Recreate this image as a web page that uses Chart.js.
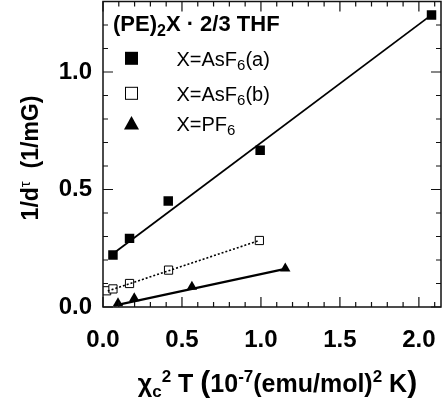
<!DOCTYPE html>
<html>
<head>
<meta charset="utf-8">
<script src="https://cdn.jsdelivr.net/npm/chart.js@4.4.0/dist/chart.umd.min.js"></script>
<style>
html, body { margin: 0; padding: 0; background: #fff; }
#wrap { width: 448px; height: 407px; }
</style>
</head>
<body>
<div id="wrap"><canvas id="chart"></canvas></div>
<script>
// X=AsF6(a), filled squares
const xA = [0.063, 0.168, 0.413, 0.995, 2.08];
const yA = [0.221, 0.292, 0.451, 0.667, 1.243];
// X=AsF6(b), open squares
const xB = [0.023, 0.063, 0.168, 0.415, 0.99];
const yB = [0.069, 0.077, 0.100, 0.157, 0.283];
// X=PF6, triangles
const xC = [0.095, 0.198, 0.563, 1.154];
const yC = [0.016, 0.037, 0.086, 0.164];
// linear fits, start and end
const fitA = [[0.063, 0.227], [2.08, 1.243]];
const fitB = [[0.03, 0.068], [0.99, 0.283]];
const fitC = [[0.07, 0.006], [1.154, 0.162]];

const xLabels = [0.0, 0.5, 1.0, 1.5, 2.0];
const yLabels = [0.0, 0.5, 1.0];

const pts = (xs, ys) => xs.map((x, i) => ({ x: x, y: ys[i] }));
const seg = (f) => f.map(p => ({ x: p[0], y: p[1] }));

function minorTicks(max) {
    const out = [];
    for (let i = 0; i * 0.1 <= max + 1e-9; i++) out.push({ value: Math.round(i) / 10 });
    return out;
}

const isMajor = v => Math.abs(v * 2 - Math.round(v * 2)) < 1e-6;

// draw a run of text pieces (sub/superscripts)
function drawRich(ctx, parts, x, y) {
    let cx = x;
    parts.forEach(p => {
        ctx.font = (p.bold ? 'bold ' : '') + p.size + 'px "Liberation Sans", Arial, sans-serif';
        ctx.fillText(p.t, cx, y + (p.dy || 0));
        cx += ctx.measureText(p.t).width;
    });
    return cx - x;
}

function richWidth(ctx, parts) {
    let w = 0;
    parts.forEach(p => {
        ctx.font = (p.bold ? 'bold ' : '') + p.size + 'px "Liberation Sans", Arial, sans-serif';
        w += ctx.measureText(p.t).width;
    });
    return w;
}

// pin the plot frame top to the reference position
const pinTop = {
    id: 'pinTop',
    afterLayout(chart) {
        const ys = chart.scales.y;
        chart.chartArea.top = 1.5;
        chart.chartArea.height = chart.chartArea.bottom - 1.5;
        ys.top = 1.5;
        ys.height = ys.bottom - ys.top;
        ys.configure();
    }
};

const framePlugin = {
    id: 'frame',
    afterDraw(chart) {
        const ctx = chart.ctx;
        const a = chart.chartArea;
        const xs = chart.scales.x, ys = chart.scales.y;
        ctx.save();
        ctx.strokeStyle = '#111';
        ctx.lineWidth = 1.5;
        ctx.strokeRect(a.left, a.top, a.right - a.left, a.bottom - a.top);
        ctx.lineWidth = 1.2;
        ctx.beginPath();
        xs.ticks.forEach(t => {
            const px = xs.getPixelForValue(t.value);
            const len = isMajor(t.value) ? 10 : 5;
            ctx.moveTo(px, a.bottom); ctx.lineTo(px, a.bottom - len);
            ctx.moveTo(px, a.top); ctx.lineTo(px, a.top + len);
        });
        ys.ticks.forEach(t => {
            const py = ys.getPixelForValue(t.value);
            const len = isMajor(t.value) ? 10 : 5;
            ctx.moveTo(a.left, py); ctx.lineTo(a.left + len, py);
            ctx.moveTo(a.right, py); ctx.lineTo(a.right - len, py);
        });
        ctx.stroke();

        // legend
        ctx.fillStyle = '#000';
        ctx.textBaseline = 'alphabetic';
        drawRich(ctx, [
            { t: '(PE)', size: 22, bold: true },
            { t: '2', size: 16, bold: true, dy: 5 },
            { t: 'X \u00b7 2/3 THF', size: 22, bold: true }
        ], 113, 31);

        const lx = 131.5;
        ctx.fillRect(lx - 6.5, 58.3 - 6.5, 13, 13);
        ctx.lineWidth = 1;
        ctx.strokeStyle = '#000';
        ctx.strokeRect(lx - 6, 93.3 - 6, 12, 12);
        ctx.beginPath();
        ctx.moveTo(lx, 116); ctx.lineTo(lx + 7.5, 129.5); ctx.lineTo(lx - 7.5, 129.5);
        ctx.closePath(); ctx.fill();

        drawRich(ctx, [
            { t: 'X=AsF', size: 20 }, { t: '6', size: 15, dy: 4 }, { t: '(a)', size: 20 }
        ], 176.5, 66);
        drawRich(ctx, [
            { t: 'X=AsF', size: 20 }, { t: '6', size: 15, dy: 4 }, { t: '(b)', size: 20 }
        ], 176.5, 101);
        drawRich(ctx, [
            { t: 'X=PF', size: 20 }, { t: '6', size: 15, dy: 4 }
        ], 176.5, 131);

        // x axis title
        const xt = [
            { t: '\u03c7', size: 25, bold: true },
            { t: 'c', size: 17, bold: true, dy: 5 },
            { t: '2', size: 17, bold: true, dy: -10 },
            { t: ' T ', size: 25, bold: true },
            { t: '(', size: 30, bold: true },
            { t: '10', size: 25, bold: true },
            { t: '-7', size: 17, bold: true, dy: -10 },
            { t: '(emu/mol)', size: 25, bold: true },
            { t: '2', size: 17, bold: true, dy: -10 },
            { t: ' K', size: 25, bold: true },
            { t: ')', size: 30, bold: true }
        ];
        const xw = richWidth(ctx, xt);
        drawRich(ctx, xt, 277.5 - xw / 2, 392);

        // y axis title
        const yt = [
            { t: '1/d', size: 23, bold: true },
            { t: '\u03c4', size: 15, bold: false, dy: -8 },
            { t: '  (1/mG)', size: 23, bold: true }
        ];
        const yw = richWidth(ctx, yt);
        ctx.translate(38, 158);
        ctx.rotate(-Math.PI / 2);
        drawRich(ctx, yt, -yw / 2, 0);
        ctx.restore();
    }
};

const tickFont = { family: '"Liberation Sans", Arial, sans-serif', size: 24, weight: 'bold' };

new Chart(document.getElementById('chart'), {
    type: 'scatter',
    data: {
        datasets: [
            { data: seg(fitA), showLine: true, borderColor: '#000', borderWidth: 1.8, pointRadius: 0, fill: false },
            { data: seg(fitB), showLine: true, borderColor: '#000', borderWidth: 1.6, borderDash: [2, 2], pointRadius: 0, fill: false },
            { data: seg(fitC), showLine: true, borderColor: '#000', borderWidth: 2.2, pointRadius: 0, fill: false },
            { data: pts(xA, yA), pointStyle: 'rect', pointRadius: 6.7, backgroundColor: '#000', borderColor: '#000', borderWidth: 0 },
            { data: pts(xB, yB), pointStyle: 'rect', pointRadius: 5.8, backgroundColor: '#fff', borderColor: '#000', borderWidth: 1 },
            { data: pts(xC, yC), pointStyle: 'triangle', pointRadius: 6, backgroundColor: '#000', borderColor: '#000', borderWidth: 0 }
        ]
    },
    options: {
        responsive: true,
        maintainAspectRatio: false,
        animation: false,
        layout: { padding: { top: 1.5, right: 7, left: 0, bottom: 0 } },
        plugins: { legend: { display: false }, tooltip: { enabled: false } },
        scales: {
            x: {
                type: 'linear', min: 0, max: 2.14,
                afterBuildTicks: s => { s.ticks = minorTicks(2.14); },
                afterFit: s => { s.height = 100; s.paddingLeft = 0; s.paddingRight = 0; },
                grid: { display: false },
                border: { display: false },
                ticks: {
                    autoSkip: false, maxRotation: 0, padding: 11, color: '#000', font: tickFont,
                    callback: v => xLabels.some(l => Math.abs(l - v) < 1e-6) ? v.toFixed(1) : ''
                }
            },
            y: {
                type: 'linear', min: 0, max: 1.3,
                afterBuildTicks: s => { s.ticks = minorTicks(1.3); },
                afterFit: s => { s.width = 103; s.paddingTop = 0; s.paddingBottom = 0; },
                grid: { display: false },
                border: { display: false },
                ticks: {
                    autoSkip: false, padding: 3, color: '#000', font: tickFont,
                    callback: v => yLabels.some(l => Math.abs(l - v) < 1e-6) ? v.toFixed(1) : ''
                }
            }
        }
    },
    plugins: [pinTop, framePlugin]
});
</script>
</body>
</html>
